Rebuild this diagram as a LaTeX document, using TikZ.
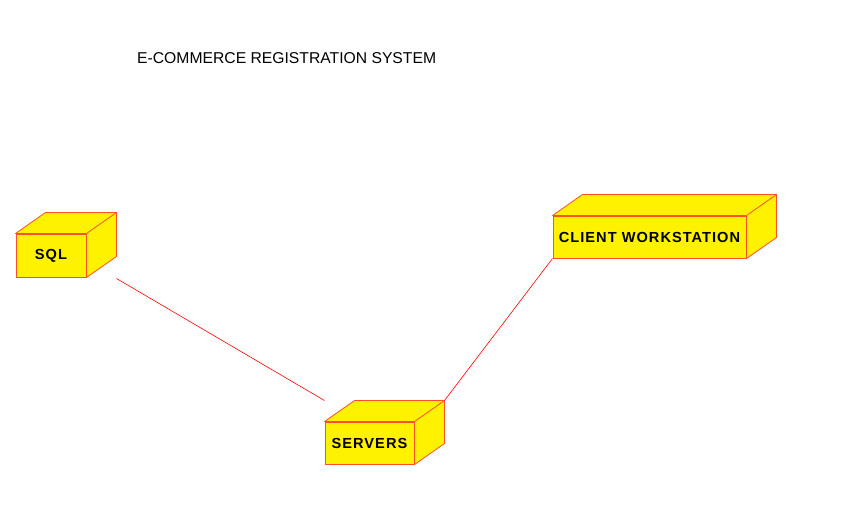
\documentclass[tikz,border=0pt]{standalone}
\usepackage{fontspec}
\setmainfont{Liberation Sans}
\newfontfamily\boxfont[LetterSpace=7]{Liberation Sans}
\usetikzlibrary{calc}
\definecolor{edge}{RGB}{255,80,40}

\begin{document}
\begin{tikzpicture}[x=1pt, y=-1pt,
        main/.style = {draw=edge, fill=yellow, line width=1pt, inner sep=0pt, font=\boxfont\bfseries\fontsize{14.6}{16}\selectfont},
        face/.style = {draw=edge, fill=yellow, line width=0.8pt, line join=round},
        link/.style = {draw=red, line width=0.6pt}]
        \useasboundingbox (0,0) rectangle (858,522);
        \node[anchor=base west, inner sep=0pt, font=\fontsize{15.7}{18}\selectfont] (0) at (137,63.5) {E-COMMERCE REGISTRATION SYSTEM};
        \node[main, minimum width=70pt, minimum height=43pt] (1) at (51,255.5) {SQL};
        \node[main, minimum width=193pt, minimum height=42pt] (2) at (649.5,237) {CLIENT WORKSTATION};
        \node[main, minimum width=89pt, minimum height=42pt] (3) at (369.5,443) {SERVERS};
        \foreach \n in {1,2,3} {
            \draw[face] (\n.north west) -- ++(30,-21) -- ($(\n.north east)+(30,-21)$) -- ($(\n.south east)+(30,-21)$) -- (\n.south east) -- (\n.north east) -- cycle;
            \draw[face] (\n.north east) -- ++(30,-21);
        }
        \coordinate (4) at ($(1.south east)+(30,1)$);
        \coordinate (5) at ($(3.north west)+(0,-21)$);
        \coordinate (6) at ($(3.north east)+(30,-21)$);
        \draw[link] (4) -- (5);
        \draw[link] (2.south west) -- (6);
    \end{tikzpicture}
\end{document}
